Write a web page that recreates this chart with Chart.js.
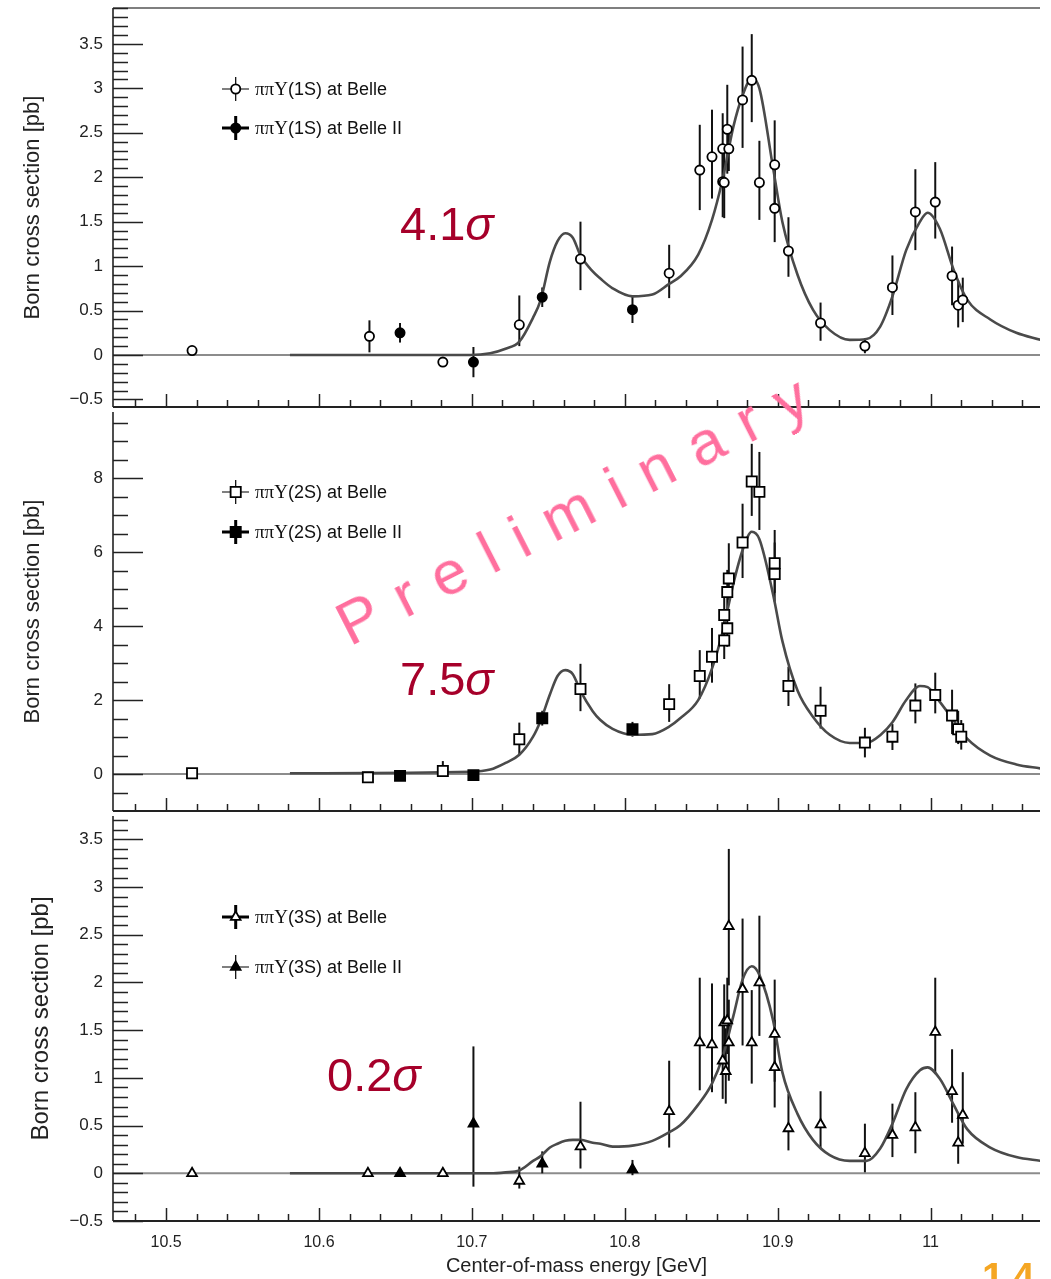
<!DOCTYPE html>
<html lang="en">
<head>
<meta charset="UTF-8" />
<title>e+e- to pi pi Upsilon(nS) Born cross sections</title>
<style>
  html, body { margin: 0; padding: 0; background: #fff; overflow: hidden; }
  body { width: 1051px; height: 1279px; position: relative; font-family: "Liberation Sans", Arial, sans-serif; }
  .panel { position: absolute; left: 0; width: 1051px; }
  .panel canvas { display: block; }
  .sig { position: absolute; color: #a6002a; font-size: 47px; line-height: 1; white-space: nowrap; }
  .prelim {
    position: absolute; left: 572px; top: 510px;
    transform: translate(-50%, -50%) rotate(-27deg);
    font-size: 62px; letter-spacing: 21px; padding-left: 21px;
    color: #ff6f9e; line-height: 1; white-space: nowrap; pointer-events: none;
  }
  .page { position: absolute; left: 982px; top: 1257px; color: #f5a623; font-weight: bold; font-size: 40px; letter-spacing: 8px; line-height: 1; }
</style>
</head>
<body>
  <div class="panel" style="top:0"><canvas id="p1" width="1051" height="408"></canvas></div>
  <div class="panel" style="top:408px"><canvas id="p2" width="1051" height="404"></canvas></div>
  <div class="panel" style="top:812px"><canvas id="p3" width="1051" height="467"></canvas></div>

  <div class="sig" style="left:400px; top:200px">4.1<i>σ</i></div>
  <div class="sig" style="left:400px; top:655px">7.5<i>σ</i></div>
  <div class="sig" style="left:327px; top:1051px">0.2<i>σ</i></div>
  <div class="prelim">Preliminary</div>
  <div class="page">14</div>

  <script src="https://cdn.jsdelivr.net/npm/chart.js"></script>
  <script>
    const FONT = '"Liberation Sans", Arial, sans-serif';
    const X_MIN = 10.4653, X_MAX = 11.0715;

    // fit curves on a shared energy grid (GeV)
    const fitE = [10.581, 10.699, 10.712, 10.722, 10.731, 10.740, 10.745, 10.751, 10.756, 10.761,
                  10.766, 10.771, 10.779, 10.784, 10.792, 10.805, 10.818, 10.829, 10.836, 10.848,
                  10.857, 10.864, 10.871, 10.877, 10.883, 10.888, 10.897, 10.903, 10.913, 10.923,
                  10.934, 10.947, 10.958, 10.967, 10.975, 10.984, 10.993, 10.998, 11.006, 11.015,
                  11.024, 11.039, 11.056, 11.072];
    const fit1S = [0.00, 0.00, 0.02, 0.07, 0.15, 0.42, 0.62, 1.05, 1.28, 1.37,
                   1.32, 1.12, 0.94, 0.86, 0.75, 0.66, 0.68, 0.80, 0.88, 1.13,
                   1.52, 1.98, 2.57, 2.92, 3.11, 3.00, 2.10, 1.50, 0.90, 0.51,
                   0.28, 0.17, 0.18, 0.32, 0.66, 1.18, 1.50, 1.60, 1.42, 0.96,
                   0.62, 0.40, 0.25, 0.17];
    const fit2S = [0.02, 0.06, 0.12, 0.30, 0.52, 1.01, 1.45, 2.15, 2.65, 2.81,
                   2.70, 2.25, 1.70, 1.46, 1.22, 1.06, 1.08, 1.28, 1.50, 2.00,
                   2.85, 3.85, 5.15, 6.05, 6.55, 6.35, 4.85, 3.60, 2.25, 1.55,
                   1.06, 0.84, 0.84, 1.05, 1.40, 2.00, 2.38, 2.35, 1.95, 1.45,
                   0.95, 0.50, 0.26, 0.15];
    const fit3S = [0.00, 0.00, 0.00, 0.01, 0.03, 0.13, 0.18, 0.27, 0.31, 0.34,
                   0.35, 0.35, 0.32, 0.31, 0.28, 0.29, 0.34, 0.43, 0.50, 0.72,
                   0.94, 1.22, 1.65, 2.03, 2.17, 2.08, 1.60, 1.06, 0.62, 0.35,
                   0.19, 0.13, 0.13, 0.26, 0.52, 0.88, 1.08, 1.11, 0.99, 0.72,
                   0.46, 0.27, 0.17, 0.13];

    // Belle points, pi pi Y(1S)
    const belle1S_E  = [10.517, 10.633, 10.681, 10.731, 10.771, 10.829, 10.849, 10.857, 10.864, 10.865, 10.864, 10.868, 10.867, 10.877,
                        10.883, 10.888, 10.898, 10.898, 10.907, 10.928, 10.957, 10.975, 10.990, 11.003, 11.014, 11.018, 11.021];
    const belle1S_y  = [0.05, 0.21, -0.08, 0.34, 1.08, 0.92, 2.08, 2.23, 1.95, 1.94, 2.32, 2.32, 2.54, 2.87,
                        3.09, 1.94, 2.14, 1.65, 1.17, 0.36, 0.10, 0.76, 1.61, 1.72, 0.89, 0.56, 0.62];
    const belle1S_lo = [0.04, 0.18, 0.04, 0.24, 0.35, 0.28, 0.45, 0.47, 0.40, 0.40, 0.40, 0.25, 0.50, 0.54,
                        0.47, 0.42, 0.50, 0.38, 0.29, 0.20, 0.08, 0.31, 0.43, 0.41, 0.33, 0.25, 0.25];
    const belle1S_hi = [0.04, 0.18, 0.04, 0.33, 0.42, 0.32, 0.51, 0.53, 0.40, 0.40, 0.40, 0.25, 0.50, 0.60,
                        0.52, 0.47, 0.50, 0.50, 0.38, 0.23, 0.08, 0.36, 0.48, 0.45, 0.33, 0.28, 0.25];

    // Belle points, pi pi Y(2S)
    const belle2S_E  = [10.517, 10.632, 10.681, 10.731, 10.771, 10.829, 10.849, 10.857, 10.865, 10.865, 10.867, 10.867, 10.868, 10.877,
                        10.883, 10.888, 10.898, 10.898, 10.907, 10.928, 10.957, 10.975, 10.990, 11.003, 11.014, 11.018, 11.020];
    const belle2S_y  = [0.02, -0.09, 0.08, 0.94, 2.30, 1.89, 2.65, 3.17, 3.61, 4.30, 3.94, 4.92, 5.29, 6.26,
                        7.91, 7.63, 5.70, 5.41, 2.38, 1.71, 0.85, 1.01, 1.85, 2.14, 1.58, 1.21, 1.01];
    const belle2S_lo = [0.05, 0.05, 0.15, 0.42, 0.60, 0.48, 0.61, 0.70, 0.50, 0.60, 0.50, 0.60, 0.60, 0.96,
                        0.93, 1.03, 0.80, 0.75, 0.54, 0.48, 0.40, 0.36, 0.48, 0.50, 0.50, 0.40, 0.35];
    const belle2S_hi = [0.05, 0.05, 0.27, 0.45, 0.68, 0.54, 0.70, 0.78, 0.50, 0.60, 0.50, 0.60, 0.95, 1.05,
                        1.02, 1.08, 0.90, 0.85, 0.52, 0.65, 0.40, 0.34, 0.60, 0.60, 0.70, 0.50, 0.45];

    // Belle points, pi pi Y(3S)
    const belle3S_E  = [10.517, 10.632, 10.681, 10.731, 10.771, 10.829, 10.849, 10.857, 10.864, 10.866, 10.865, 10.867, 10.868, 10.868,
                        10.877, 10.883, 10.888, 10.898, 10.898, 10.907, 10.928, 10.957, 10.975, 10.990, 11.003, 11.014, 11.018, 11.021];
    const belle3S_y  = [0.00, 0.00, 0.00, -0.08, 0.28, 0.65, 1.37, 1.35, 1.18, 1.07, 1.58, 1.60, 1.37, 2.59,
                        1.93, 1.37, 2.00, 1.46, 1.11, 0.47, 0.51, 0.21, 0.40, 0.48, 1.48, 0.86, 0.32, 0.61];
    const belle3S_lo = [0.02, 0.02, 0.02, 0.08, 0.23, 0.38, 0.50, 0.50, 0.40, 0.34, 0.40, 0.35, 0.40, 0.62,
                        0.59, 0.43, 0.56, 0.50, 0.42, 0.23, 0.25, 0.20, 0.23, 0.27, 0.44, 0.33, 0.22, 0.30];
    const belle3S_hi = [0.02, 0.02, 0.02, 0.15, 0.47, 0.53, 0.68, 0.64, 0.40, 0.45, 0.40, 0.45, 0.45, 0.81,
                        0.74, 0.55, 0.70, 0.57, 0.50, 0.36, 0.35, 0.31, 0.33, 0.37, 0.57, 0.44, 0.30, 0.45];

    // Belle II points (same four energies in each channel)
    const belleII_E   = [10.653, 10.701, 10.746, 10.805];
    const belleII_1S  = [0.25, -0.08, 0.65, 0.51];
    const belleII_1Se = [0.11, 0.17, 0.11, 0.15];
    const belleII_2S  = [-0.05, -0.03, 1.51, 1.21];
    const belleII_2Se = [0.06, 0.05, 0.20, 0.20];
    const belleII_3S  = [0.00, 0.52, 0.10, 0.04];
    const belleII_3Slo = [0.02, 0.66, 0.10, 0.06];
    const belleII_3Shi = [0.02, 0.81, 0.13, 0.10];

    const PANELS = {
      p1: {
        fit: fit1S, shape: 'circle', r: 4.6,
        belle: [belle1S_E, belle1S_y, belle1S_lo, belle1S_hi],
        belleII: [belleII_E, belleII_1S, belleII_1Se, belleII_1Se],
        yMin: -0.585, yMax: 3.904, yStep: 0.5, yMinor: 0.1, yMajorEvery: 5,
        padTop: 8, padBottom: 1, showX: false, topFrame: true, titleSize: 22, titlePad: 20,
        legend: [
          { y: 89, filled: false, lw: 1.2, text: 'ππΥ(1S) at Belle' },
          { y: 128, filled: true, lw: 3, text: 'ππΥ(1S) at Belle II' }
        ]
      },
      p2: {
        fit: fit2S, shape: 'rect', r: 7.2,
        belle: [belle2S_E, belle2S_y, belle2S_lo, belle2S_hi],
        belleII: [belleII_E, belleII_2S, belleII_2Se, belleII_2Se],
        yMin: -1.0, yMax: 9.79, yStep: 2, yMinor: 0.5, yMajorEvery: 4,
        padTop: 4, padBottom: 1, showX: false, topFrame: false, titleSize: 22, titlePad: 20,
        legend: [
          { y: 84, filled: false, lw: 1.2, text: 'ππΥ(2S) at Belle' },
          { y: 124, filled: true, lw: 3, text: 'ππΥ(2S) at Belle II' }
        ]
      },
      p3: {
        fit: fit3S, shape: 'triangle', r: 5.6,
        belle: [belle3S_E, belle3S_y, belle3S_lo, belle3S_hi],
        belleII: [belleII_E, belleII_3S, belleII_3Slo, belleII_3Shi],
        yMin: -0.5, yMax: 3.745, yStep: 0.5, yMinor: 0.1, yMajorEvery: 5,
        padTop: 4, padBottom: 0, showX: true, topFrame: false, titleSize: 24, titlePad: 27,
        legend: [
          { y: 105, filled: false, lw: 3, text: 'ππΥ(3S) at Belle' },
          { y: 155, filled: true, lw: 1.2, text: 'ππΥ(3S) at Belle II' }
        ]
      }
    };

    function marker(ctx, shape, x, y, r, filled) {
      ctx.beginPath();
      if (shape === 'circle') {
        ctx.arc(x, y, r, 0, Math.PI * 2);
      } else if (shape === 'rect') {
        const s = r * Math.SQRT1_2;
        ctx.rect(x - s, y - s, 2 * s, 2 * s);
      } else {
        ctx.moveTo(x, y - r);
        ctx.lineTo(x + r * 0.866, y + r * 0.5);
        ctx.lineTo(x - r * 0.866, y + r * 0.5);
        ctx.closePath();
      }
      ctx.fillStyle = filled ? '#000' : '#fff';
      ctx.fill();
      ctx.lineWidth = 1.8;
      ctx.strokeStyle = '#000';
      ctx.stroke();
    }

    const rootStyle = {
      id: 'rootStyle',
      beforeDatasetsDraw(chart) {
        const { ctx, chartArea: a, scales: { x, y } } = chart;
        ctx.save();
        ctx.beginPath();
        ctx.rect(a.left, a.top, a.right - a.left, a.bottom - a.top);
        ctx.clip();
        // zero line
        const y0 = y.getPixelForValue(0);
        ctx.strokeStyle = '#8c8c8c';
        ctx.lineWidth = 2;
        ctx.beginPath();
        ctx.moveTo(a.left, y0);
        ctx.lineTo(a.right, y0);
        ctx.stroke();
        // error bars
        chart.data.datasets.forEach((ds) => {
          if (!ds.errLo) return;
          ctx.strokeStyle = '#111';
          ctx.lineWidth = 2;
          ds.data.forEach((pt, j) => {
            const px = x.getPixelForValue(pt.x);
            ctx.beginPath();
            ctx.moveTo(px, y.getPixelForValue(pt.y - ds.errLo[j]));
            ctx.lineTo(px, y.getPixelForValue(pt.y + ds.errHi[j]));
            ctx.stroke();
          });
        });
        ctx.restore();
      },
      afterDraw(chart) {
        const p = PANELS[chart.canvas.id];
        const { ctx, chartArea: a, scales: { x, y } } = chart;
        ctx.save();
        ctx.strokeStyle = '#222';
        // frame
        ctx.lineWidth = 1.6;
        ctx.beginPath();
        ctx.moveTo(a.left, a.top);
        ctx.lineTo(a.left, a.bottom);
        ctx.stroke();
        ctx.lineWidth = 2;
        ctx.beginPath();
        ctx.moveTo(a.left, a.bottom);
        ctx.lineTo(a.right, a.bottom);
        ctx.stroke();
        if (p.topFrame) {
          ctx.strokeStyle = '#555';
          ctx.lineWidth = 1.5;
          ctx.beginPath();
          ctx.moveTo(a.left, a.top);
          ctx.lineTo(a.right, a.top);
          ctx.stroke();
          ctx.strokeStyle = '#222';
        }
        // y ticks (inward)
        ctx.lineWidth = 1.5;
        const k0 = Math.ceil(y.min / p.yMinor - 1e-6), k1 = Math.floor(y.max / p.yMinor + 1e-6);
        for (let k = k0; k <= k1; k++) {
          const py = Math.round(y.getPixelForValue(k * p.yMinor)) + 0.5;
          const major = ((k % p.yMajorEvery) + p.yMajorEvery) % p.yMajorEvery === 0;
          ctx.beginPath();
          ctx.moveTo(a.left, py);
          ctx.lineTo(a.left + (major ? 30 : 15), py);
          ctx.stroke();
        }
        // x ticks (inward)
        const j0 = Math.ceil(x.min / 0.02 - 1e-6), j1 = Math.floor(x.max / 0.02 + 1e-6);
        for (let j = j0; j <= j1; j++) {
          const px = Math.round(x.getPixelForValue(j * 0.02)) + 0.5;
          const major = j % 5 === 0;
          ctx.beginPath();
          ctx.moveTo(px, a.bottom);
          ctx.lineTo(px, a.bottom - (major ? 13 : 7));
          ctx.stroke();
        }
        // legend
        p.legend.forEach((it) => {
          const mx = 235.7;
          ctx.strokeStyle = '#000';
          ctx.lineWidth = it.lw;
          ctx.beginPath();
          ctx.moveTo(222, it.y); ctx.lineTo(249, it.y);
          ctx.moveTo(mx, it.y - 12); ctx.lineTo(mx, it.y + 12);
          ctx.stroke();
          marker(ctx, p.shape, mx, it.y, p.r, it.filled);
          ctx.fillStyle = '#111';
          ctx.textBaseline = 'middle';
          ctx.font = '19px "Liberation Serif", serif';
          const head = it.text.slice(0, 3);
          ctx.fillText(head, 255, it.y + 1);
          const w = ctx.measureText(head).width;
          ctx.font = '18px ' + FONT;
          ctx.fillText(it.text.slice(3), 255 + w, it.y + 1);
        });
        ctx.restore();
      }
    };

    function fmtY(v) {
      const r = Math.round(v * 10) / 10;
      return r < 0 ? '\u2212' + Math.abs(r) : String(r);
    }

    function makePanel(id) {
      const p = PANELS[id];
      const toPts = (E, V) => E.map((e, i) => ({ x: e, y: V[i] }));
      return new Chart(document.getElementById(id), {
        type: 'scatter',
        data: {
          datasets: [
            {
              type: 'line', data: toPts(fitE, p.fit), borderColor: '#4a4a4a', borderWidth: 2.6,
              pointRadius: 0, cubicInterpolationMode: 'monotone', order: 3
            },
            {
              data: toPts(p.belle[0], p.belle[1]), errLo: p.belle[2], errHi: p.belle[3],
              pointStyle: p.shape, pointRadius: p.r, backgroundColor: '#fff', borderColor: '#000',
              borderWidth: 1.8, order: 2
            },
            {
              data: toPts(p.belleII[0], p.belleII[1]), errLo: p.belleII[2], errHi: p.belleII[3],
              pointStyle: p.shape, pointRadius: p.r, backgroundColor: '#000', borderColor: '#000',
              borderWidth: 1.8, order: 1
            }
          ]
        },
        options: {
          responsive: false,
          animation: false,
          layout: { autoPadding: false, padding: { left: 0, right: 11, top: p.padTop, bottom: p.padBottom } },
          plugins: { legend: { display: false }, tooltip: { enabled: false } },
          scales: {
            x: {
              type: 'linear', min: X_MIN, max: X_MAX, display: p.showX,
              grid: { display: false, drawTicks: false }, border: { display: false },
              ticks: {
                stepSize: 0.1, includeBounds: false, padding: 12, color: '#222',
                font: { family: FONT, size: 16 }, maxRotation: 0,
                callback: (v) => String(+v.toFixed(1))
              },
              title: {
                display: p.showX, text: 'Center-of-mass energy [GeV]', color: '#222',
                font: { family: FONT, size: 20 }, padding: { top: 0, bottom: 1 }
              },
              afterFit(s) {
                s.paddingLeft = 0; s.paddingRight = 0;
                if (p.showX) s.height = 58;
              }
            },
            y: {
              type: 'linear', min: p.yMin, max: p.yMax,
              grid: { display: false, drawTicks: false }, border: { display: false },
              ticks: {
                stepSize: p.yStep, includeBounds: false, padding: 10, color: '#222',
                font: { family: FONT, size: 17 }, callback: fmtY
              },
              title: {
                display: true, text: 'Born cross section [pb]', color: '#222',
                font: { family: FONT, size: p.titleSize }, padding: { top: p.titlePad, bottom: 0 }
              },
              afterFit(s) {
                s.width = 113; s.paddingTop = 0; s.paddingBottom = 0;
              }
            }
          }
        },
        plugins: [rootStyle]
      });
    }

    makePanel('p1');
    makePanel('p2');
    makePanel('p3');
  </script>
</body>
</html>
